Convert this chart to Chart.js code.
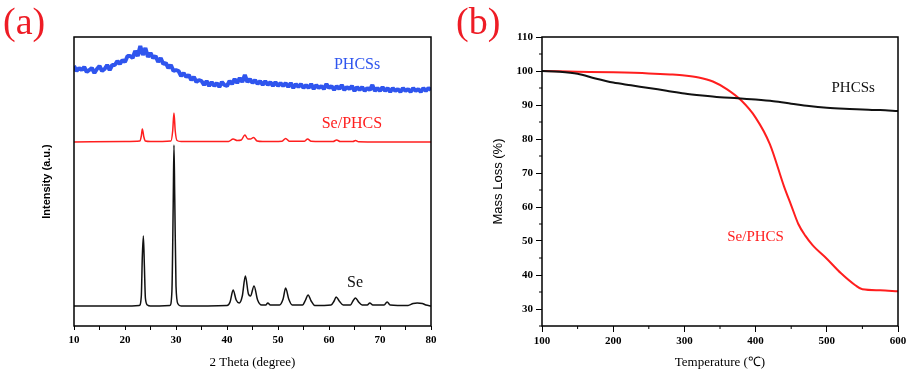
<!DOCTYPE html>
<html>
<head>
<meta charset="utf-8">
<script src="https://cdn.jsdelivr.net/npm/chart.js@4/dist/chart.umd.min.js"></script>
<style>
body { margin:0; background:#fff; }
#wrap { position:relative; width:910px; height:371px; }
canvas { position:absolute; top:0; }
</style>
</head>
<body>
<div id="wrap">
<canvas id="ca" width="455" height="371" style="left:0"></canvas>
<canvas id="cb" width="455" height="371" style="left:455px"></canvas>
</div>
<script>
// ---- (a) XRD patterns ----
// PHCSs: sampled every 0.5 degree from 10 to 80
const phcsStart = 10;
const phcsStep = 0.5;
const phcsCounts = [260,255,258,256,259,254,256,258,253,257,260,255,257,261,256,261,261,265,262,266,
  264,270,270,268,275,270,280,271,278,269,273,268,270,264,268,262,263,258,261,255,
  256,255,250,253,249,251,246,249,244,246,245,241,245,240,244,240,243,239,244,241,
  240,245,242,247,243,248,244,251,244,247,243,246,242,245,241,245,241,244,240,244,
  240,243,240,243,239,243,238,242,239,242,238,241,238,242,237,241,238,240,237,242,
  238,240,236,240,237,241,236,239,237,240,235,239,236,239,235,238,236,241,235,238,
  235,239,235,238,234,238,235,237,234,238,235,237,234,238,235,237,234,238,235,238,
  236];

const sePhcsTheta = [10,20,22.9,23.2,23.4,23.7,24.0,25,29.0,29.35,29.6,29.85,30.2,31,40.3,41.2,42.0,42.8,43.5,44.1,44.6,45.2,45.9,47,50.8,51.5,52.2,55.2,55.8,56.5,60.8,61.5,62.2,64.7,65.2,65.8,70,80];
const sePhcsCounts = [184,184.5,185,190,197,189,185,184.5,185,195,213,195,185.5,184.5,184.5,187,185.5,186,191,187,187,188.5,185,184.5,184.8,187.5,184.8,184.8,187,184.8,184.5,186,184.5,184.5,185.5,184.2,184,184];

const seTheta = [10,15,20,22.8,23.2,23.4,23.6,23.8,24.0,24.4,25,28.8,29.2,29.45,29.6,29.75,30.0,30.4,31,40,40.6,41.2,41.8,42.4,43.0,43.6,44.2,44.6,45.3,46.0,46.8,47.6,48.0,48.5,50.3,51.0,51.5,52.1,52.8,54.8,55.4,55.9,56.5,57.2,60.4,61.0,61.4,62.0,62.8,64.2,64.7,65.2,65.8,66.5,67.5,68.0,68.6,70.8,71.4,72.0,75.5,76.5,77.3,78.3,79,80];
const seCounts = [20,20,20,20.5,30,70,90,60,28,21,20,20.5,35,120,181,130,40,22,20,20.5,24,36,26,23,30,50,32,30,40,26,21,21,23,21,21,27,38,27,21,21,26,31,25,20.5,21,25,29,25,21,21,25,28,24,21,21,23,21,21,24,21,20.5,22.5,23,22.5,21,20];

const xrdTicks = [10,20,30,40,50,60,70,80];

// ---- (b) TGA ----
const phcsTemp = [100,125,150,175,200,225,250,275,300,325,350,375,400,425,450,475,500,525,550,575,600];
const phcsMass = [100,99.8,99.2,97.8,96.6,95.8,95.0,94.2,93.4,92.8,92.3,92.0,91.6,91.1,90.4,89.7,89.2,88.9,88.7,88.5,88.2];
const seTemp = [100,150,200,250,280,300,320,340,360,380,400,420,440,450,460,470,480,500,520,540,550,575,600];
const seMass = [100,99.8,99.6,99.3,99.0,98.7,98.1,96.9,94.6,91.3,86.3,78.5,66,60.5,55,51.5,48.8,44.8,40.5,37,35.8,35.5,35.2];

const RED = '#ff1e1e';
const BLUE = '#2f55ee';
const SERIF = '"Liberation Serif", "Times New Roman", serif';
const SANS = '"Liberation Sans", Arial, sans-serif';

function pairs(xs, ys) {
  return xs.map((x, i) => ({x: x, y: ys[i]}));
}

const framePlugin = {
  id: 'frameText',
  afterDraw(chart, args, opts) {
    const ctx = chart.ctx;
    const a = chart.chartArea;
    const xs = chart.scales.x, ys = chart.scales.y;
    ctx.save();
    ctx.strokeStyle = '#000';
    ctx.lineWidth = 1.5;
    ctx.strokeRect(a.left, a.top, a.right - a.left, a.bottom - a.top);
    if (opts.minor) {
      ctx.lineWidth = 1;
      ctx.beginPath();
      ys.ticks.forEach(t => {
        if (t.value % 10 !== 0) {
          const p = ys.getPixelForValue(t.value);
          ctx.moveTo(a.left - 3, p); ctx.lineTo(a.left, p);
        }
      });
      xs.ticks.forEach(t => {
        if (t.value % 100 !== 0) {
          const p = xs.getPixelForValue(t.value);
          ctx.moveTo(p, a.bottom); ctx.lineTo(p, a.bottom + 3);
        }
      });
      ctx.stroke();
    }
    ctx.textAlign = 'center';
    ctx.textBaseline = 'middle';
    (opts.notes || []).forEach(n => {
      ctx.font = n.font;
      ctx.fillStyle = n.color;
      ctx.fillText(n.text, xs.getPixelForValue(n.x), ys.getPixelForValue(n.y));
    });
    ctx.font = '38px ' + SERIF;
    ctx.fillStyle = '#ee1c25';
    ctx.textAlign = 'left';
    ctx.fillText(opts.panel, opts.panelX, 24);
    ctx.restore();
  }
};

Chart.defaults.animation = false;

// (a)
new Chart(document.getElementById('ca'), {
  type: 'line',
  data: {
    datasets: [{
      label: 'PHCSs',
      data: phcsCounts.map((v, i) => ({x: phcsStart + i * phcsStep, y: v})),
      borderColor: BLUE,
      borderWidth: 4,
      borderJoinStyle: 'bevel',
      pointRadius: 0,
      tension: 0
    }, {
      label: 'Se/PHCS',
      data: pairs(sePhcsTheta, sePhcsCounts),
      borderColor: RED,
      borderWidth: 1.5,
      pointRadius: 0,
      cubicInterpolationMode: 'monotone'
    }, {
      label: 'Se',
      data: pairs(seTheta, seCounts),
      borderColor: '#111',
      borderWidth: 1.5,
      pointRadius: 0,
      cubicInterpolationMode: 'monotone'
    }]
  },
  options: {
    responsive: false,
    layout: {padding: {left: 30, right: 24, top: 37, bottom: 0}},
    plugins: {
      legend: {display: false},
      tooltip: {enabled: false},
      frameText: {
        panel: '(a)', panelX: 3,
        notes: [
          {text: 'PHCSs', x: 65.5, y: 261, color: BLUE, font: '16px ' + SERIF},
          {text: 'Se/PHCS', x: 64.5, y: 202, color: RED, font: '16px ' + SERIF},
          {text: 'Se', x: 65.1, y: 43.5, color: '#111', font: '16px ' + SERIF}
        ]
      }
    },
    scales: {
      x: {
        type: 'linear', min: 10, max: 80,
        border: {display: false},
        grid: {drawOnChartArea: false, drawTicks: true, tickLength: 4, tickColor: '#000'},
        ticks: {
          stepSize: 5, autoSkip: false, maxRotation: 0, padding: 4, color: '#000',
          font: {family: SERIF, size: 11, weight: 'bold'},
          callback: v => xrdTicks.includes(v) ? String(v) : ''
        },
        title: {display: true, text: '2 Theta (degree)', color: '#000', font: {family: SERIF, size: 13}, padding: {top: 0, bottom: 1}},
        afterFit: s => { s.height = 45; }
      },
      y: {
        min: 0, max: 289,
        border: {display: false},
        grid: {display: false},
        ticks: {display: false},
        title: {display: true, text: 'Intensity (a.u.)', color: '#000', font: {family: SANS, size: 11, weight: 'bold'}, padding: {top: 10, bottom: 0}},
        afterFit: s => { s.width = 44; }
      }
    }
  },
  plugins: [framePlugin]
});

// (b)
new Chart(document.getElementById('cb'), {
  type: 'line',
  data: {
    datasets: [{
      label: 'PHCSs',
      data: pairs(phcsTemp, phcsMass),
      borderColor: '#111',
      borderWidth: 2,
      pointRadius: 0,
      cubicInterpolationMode: 'monotone'
    }, {
      label: 'Se/PHCS',
      data: pairs(seTemp, seMass),
      borderColor: RED,
      borderWidth: 2,
      pointRadius: 0,
      cubicInterpolationMode: 'monotone'
    }]
  },
  options: {
    responsive: false,
    layout: {padding: {left: 30, right: 12, top: 37, bottom: 0}},
    plugins: {
      legend: {display: false},
      tooltip: {enabled: false},
      frameText: {
        panel: '(b)', panelX: 1, minor: true,
        notes: [
          {text: 'PHCSs', x: 537, y: 95, color: '#111', font: '15px ' + SERIF},
          {text: 'Se/PHCS', x: 400, y: 51.2, color: RED, font: '15px ' + SERIF}
        ]
      }
    },
    scales: {
      x: {
        type: 'linear', min: 100, max: 600,
        border: {display: false},
        grid: {drawOnChartArea: false, tickLength: 6, tickColor: c => c.tick && c.tick.value % 100 === 0 ? '#000' : 'transparent'},
        ticks: {
          stepSize: 50, autoSkip: false, maxRotation: 0, padding: 3, color: '#000',
          font: {family: SERIF, size: 11, weight: 'bold'},
          callback: v => v % 100 === 0 ? String(v) : ''
        },
        title: {display: true, text: 'Temperature (℃)', color: '#000', font: {family: SERIF, size: 13}, padding: {top: 0, bottom: 1}},
        afterFit: s => { s.height = 45; }
      },
      y: {
        min: 25, max: 110,
        border: {display: false},
        grid: {drawOnChartArea: false, tickLength: 6, tickColor: c => c.tick && c.tick.value % 10 === 0 ? '#000' : 'transparent'},
        ticks: {
          stepSize: 5, autoSkip: false, padding: 3, color: '#000',
          font: {family: SERIF, size: 11, weight: 'bold'},
          callback: v => (v % 10 === 0 && v >= 30) ? String(v) : ''
        },
        title: {display: true, text: 'Mass Loss (%)', color: '#000', font: {family: SANS, size: 13}, padding: {top: 5.5, bottom: 0}},
        afterFit: s => { s.width = 57; }
      }
    }
  },
  plugins: [framePlugin]
});
</script>
</body>
</html>
